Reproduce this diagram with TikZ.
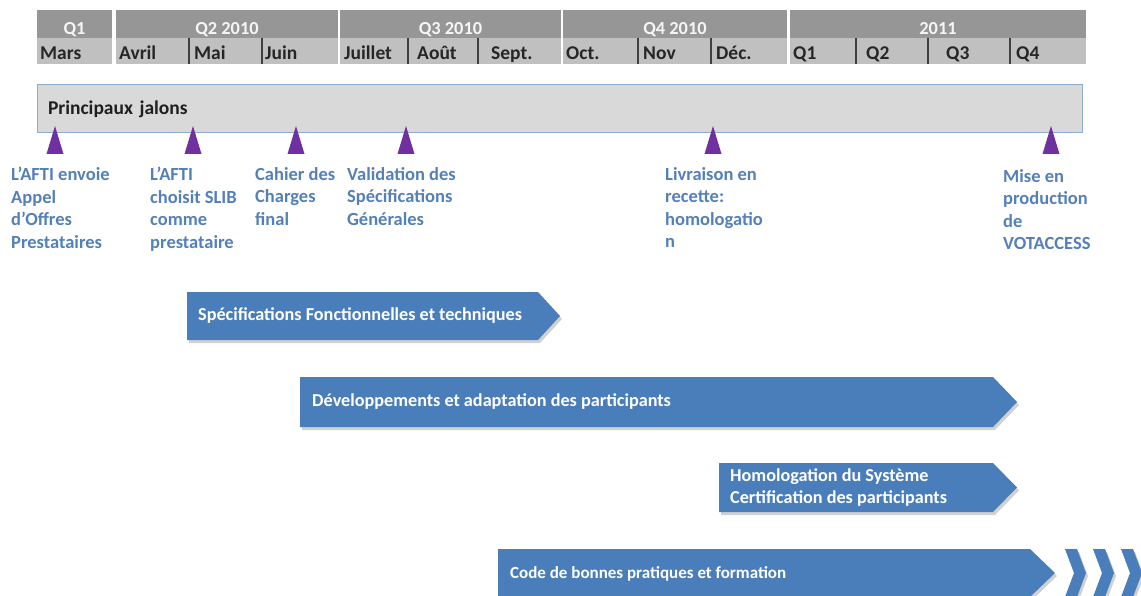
\documentclass[tikz,border=0pt]{standalone}
\usepackage{fontspec}
\setmainfont{Carlito}
\usepackage{tikz}
\usetikzlibrary{positioning, shadows}

\definecolor{hdrdark}{RGB}{150,150,150}
\definecolor{hdrlight}{RGB}{192,192,192}
\definecolor{jalonbleu}{RGB}{84,128,186}
\definecolor{barbleu}{RGB}{74,126,187}
\definecolor{jalonviolet}{RGB}{112,48,160}
\definecolor{boxbord}{RGB}{140,172,210}

\newcommand{\qfont}{\fontsize{18.4}{20}\selectfont\bfseries}
\newcommand{\moisfont}{\fontsize{19.5}{20}\selectfont\bfseries}
\newcommand{\jalonfont}{\fontsize{18.5}{22.5}\selectfont\bfseries}
\newcommand{\barfont}{\fontsize{18.2}{22}\selectfont\bfseries}

\begin{document}
\begin{tikzpicture}[x=1pt, y=-1pt,
    qlabel/.style={font=\qfont, text=white!96!black, anchor=base, inner sep=0pt},
    mlabel/.style={font=\moisfont, text=black!85, anchor=base west, inner sep=0pt},
    divider/.style={draw=black!75, line width=1.2pt},
    jalonbox/.style={draw=boxbord, fill=black!15, line width=1pt, text width=1023pt, inner xsep=11pt,
        minimum height=48pt, align=left, font=\fontsize{19.5}{20}\selectfont\bfseries, text=black!88},
    jalon/.style={font=\jalonfont, text=jalonbleu, align=left, anchor=north west, inner sep=0pt},
    barre/.style={fill=barbleu, drop shadow={shadow xshift=2pt, shadow yshift=-3pt, opacity=0.3, fill=black!60}},
    bartext/.style={font=\barfont, text=white, align=left, anchor=west, inner sep=0pt}]
    \useasboundingbox (0,0) rectangle (1141,596);

    % en-tete : trimestres et mois
    \foreach \x/\w/\t [count=\i] in {37/75/Q1, 116/222/Q2 2010, 340/221/Q3 2010, 563/224/Q4 2010, 790/296/2011} {
        \fill[hdrdark] (\x,10) rectangle ++(\w,28);
        \fill[hdrlight] (\x,38) rectangle ++(\w,26);
        \node[qlabel] (q\i) at (\x+\w/2,35) {\t};
    }
    \foreach \x/\t [count=\i] in {40/Mars, 119/Avril, 194/Mai, 265/Juin, 344/Juillet, 417/Août, 491/Sept., 566/Oct.,
        643/Nov, 716/Déc., 793/Q1, 866/Q2, 946/Q3, 1016/Q4}
        \node[mlabel] (mois\i) at (\x,60) {\t};
    \foreach \x in {189,262,408,478,638,711,856,928,1010}
        \draw[divider] (\x,38) -- (\x,64);

    % jalons
    \node[jalonbox] (jalons) at (559.5,109) {Principaux jalons};
    \foreach \x in {55,193,296,406,713,1051}
        \fill[jalonviolet] (\x-8.5,154) -- (\x,126) -- (\x+8.5,154) -- cycle;

    \node[jalon] (j1) at (11,167) {L’AFTI envoie\\Appel\\d’Offres\\Prestataires};
    \node[jalon] (j2) at (150,167) {L’AFTI\\choisit SLIB\\comme\\prestataire};
    \node[jalon] (j3) at (255,167) {Cahier des\\Charges\\final};
    \node[jalon] (j4) at (347,167) {Validation des\\Spécifications\\Générales};
    \node[jalon] (j5) at (665,167) {Livraison en\\recette:\\homologatio\\n};
    \node[jalon] (j6) at (1003,169) {Mise en\\production\\de\\VOTACCESS};

    % barres
    \fill[barre] (187,292) -- (538,292) -- (560,316) -- (538,340) -- (187,340) -- cycle;
    \node[bartext] (spec) at (198,316) {Spécifications Fonctionnelles et techniques};

    \fill[barre] (300,377) -- (993,377) -- (1017,402) -- (993,427) -- (300,427) -- cycle;
    \node[bartext] (dev) at (312,402) {Développements et adaptation des participants};

    \fill[barre] (719,463) -- (993,463) -- (1017,487.5) -- (993,512) -- (719,512) -- cycle;
    \node[bartext] (homol) at (730,487.5) {Homologation du Système\\Certification des participants};

    \fill[barre] (498,549) -- (1030,549) -- (1055,573) -- (1030,597) -- (498,597) -- cycle;
    \node[bartext, font=\fontsize{17}{22}\selectfont\bfseries] (code) at (510,574) {Code de bonnes pratiques et formation};
    \foreach \x in {1065,1093,1121}
        \fill[barre] (\x,549) -- ++(12,0) -- ++(9,24) -- ++(-9,24) -- ++(-12,0) -- ++(9,-24) -- cycle;
\end{tikzpicture}
\end{document}
